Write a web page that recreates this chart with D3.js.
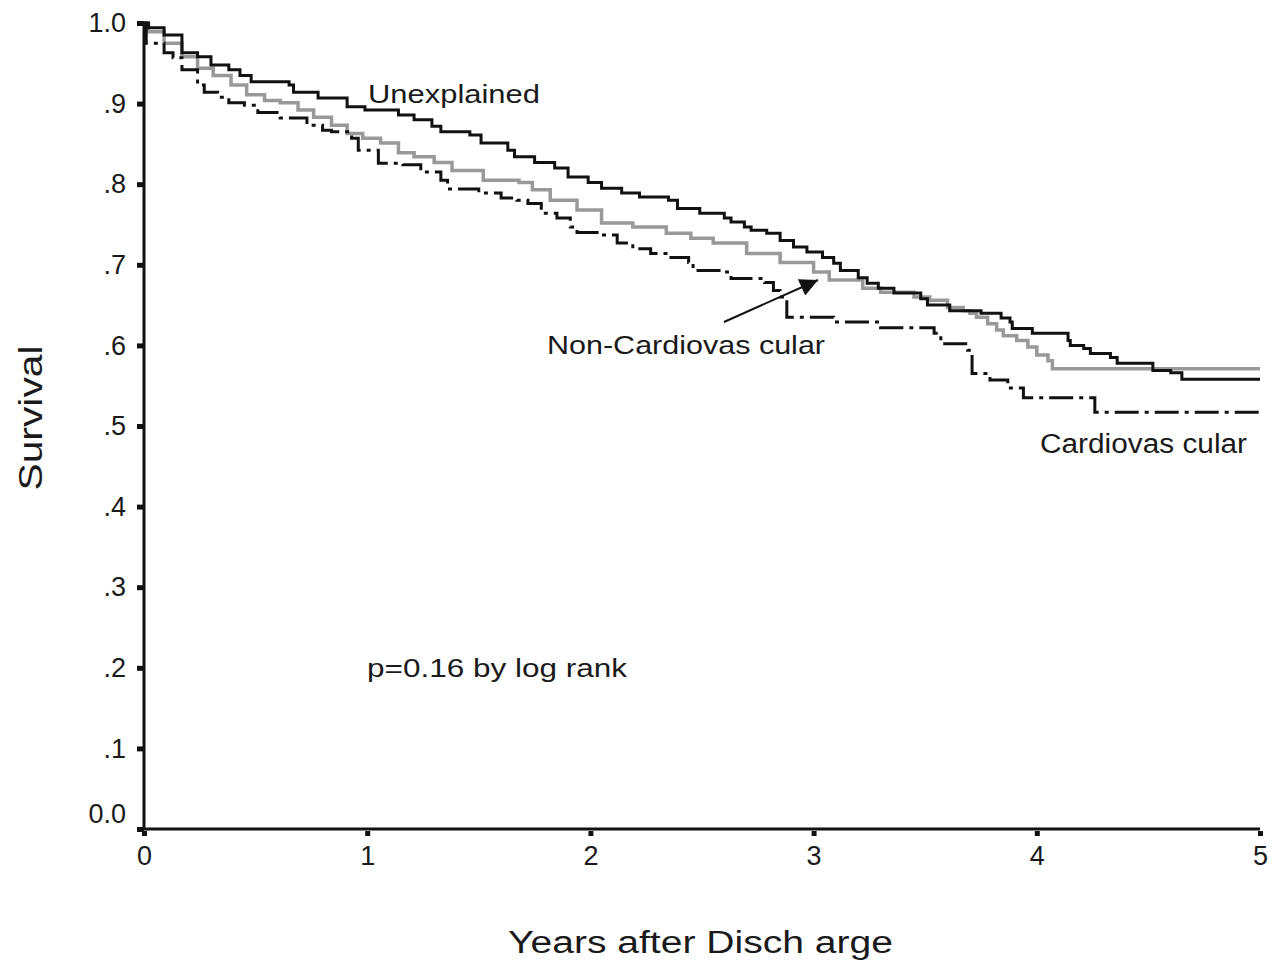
<!DOCTYPE html>
<html>
<head>
<meta charset="utf-8">
<script src="https://cdn.jsdelivr.net/npm/d3@7"></script>
<style>
  body { margin: 0; background: #fff; }
  svg { display: block; font-family: Arial, "Liberation Sans", sans-serif; }
</style>
</head>
<body>
<div id="chart"></div>
<script>
// Kaplan-Meier steps: [years, survival]
var unexplained = [
  [0, 1.0], [0.02, 0.994], [0.09, 0.985], [0.17, 0.963], [0.24, 0.958], [0.30, 0.948],
  [0.38, 0.942], [0.43, 0.935], [0.48, 0.927], [0.65, 0.923], [0.67, 0.914], [0.78, 0.907],
  [0.91, 0.896], [0.99, 0.892], [1.14, 0.886], [1.21, 0.880], [1.29, 0.872], [1.33, 0.865],
  [1.46, 0.861], [1.51, 0.851], [1.63, 0.842], [1.66, 0.834], [1.75, 0.827], [1.84, 0.820],
  [1.90, 0.809], [1.99, 0.802], [2.05, 0.795], [2.14, 0.789], [2.22, 0.784], [2.35, 0.780],
  [2.39, 0.770], [2.49, 0.764], [2.60, 0.758], [2.63, 0.753], [2.69, 0.747], [2.72, 0.743],
  [2.79, 0.739], [2.85, 0.730], [2.91, 0.722], [2.97, 0.716], [3.04, 0.709], [3.09, 0.702],
  [3.12, 0.693], [3.20, 0.684], [3.24, 0.677], [3.29, 0.671], [3.36, 0.665], [3.48, 0.658],
  [3.51, 0.650], [3.61, 0.643], [3.75, 0.640], [3.84, 0.634], [3.88, 0.629], [3.89, 0.621],
  [3.98, 0.615], [4.14, 0.606], [4.15, 0.600], [4.21, 0.596], [4.24, 0.590], [4.33, 0.585],
  [4.36, 0.578], [4.52, 0.569], [4.60, 0.566], [4.65, 0.558], [5.0, 0.558]
];

var nonCardio = [
  [0, 1.0], [0.02, 0.989], [0.09, 0.975], [0.17, 0.958], [0.24, 0.944], [0.31, 0.935],
  [0.39, 0.923], [0.46, 0.911], [0.54, 0.904], [0.61, 0.901], [0.69, 0.892], [0.76, 0.883],
  [0.84, 0.873], [0.91, 0.863], [0.98, 0.857], [1.06, 0.851], [1.14, 0.839], [1.21, 0.834],
  [1.30, 0.827], [1.38, 0.817], [1.52, 0.805], [1.68, 0.802], [1.74, 0.793], [1.82, 0.780],
  [1.94, 0.768], [2.05, 0.752], [2.19, 0.747], [2.34, 0.739], [2.45, 0.733], [2.55, 0.727],
  [2.70, 0.714], [2.85, 0.703], [3.00, 0.691], [3.07, 0.681], [3.22, 0.671], [3.30, 0.666],
  [3.45, 0.660], [3.52, 0.656], [3.60, 0.647], [3.67, 0.643], [3.70, 0.640], [3.73, 0.635],
  [3.78, 0.627], [3.82, 0.619], [3.85, 0.612], [3.91, 0.606], [3.96, 0.598], [4.00, 0.588],
  [4.05, 0.581], [4.07, 0.571], [5.0, 0.571]
];

var cardio = [
  [0, 1.0], [0.01, 0.975], [0.09, 0.963], [0.13, 0.957], [0.17, 0.942], [0.24, 0.923],
  [0.27, 0.914], [0.33, 0.908], [0.38, 0.901], [0.45, 0.898], [0.51, 0.889], [0.61, 0.882],
  [0.73, 0.873], [0.80, 0.867], [0.84, 0.865], [0.93, 0.857], [0.96, 0.842], [1.05, 0.826],
  [1.16, 0.824], [1.24, 0.815], [1.33, 0.805], [1.36, 0.794], [1.50, 0.789], [1.60, 0.783],
  [1.67, 0.780], [1.72, 0.776], [1.78, 0.764], [1.85, 0.758], [1.91, 0.747], [1.94, 0.740],
  [2.03, 0.737], [2.12, 0.727], [2.19, 0.720], [2.27, 0.714], [2.35, 0.709], [2.44, 0.703],
  [2.46, 0.693], [2.61, 0.691], [2.63, 0.683], [2.78, 0.678], [2.82, 0.668], [2.85, 0.660],
  [2.88, 0.635], [3.09, 0.629], [3.30, 0.622], [3.54, 0.615], [3.57, 0.602], [3.69, 0.594],
  [3.71, 0.565], [3.79, 0.557], [3.87, 0.547], [3.94, 0.535], [4.26, 0.517], [5.0, 0.517]
];

var xTicks = [0, 1, 2, 3, 4, 5];
var yTicks = [0, 0.1, 0.2, 0.3, 0.4, 0.5, 0.6, 0.7, 0.8, 0.9, 1.0];
var yTickLabels = ["0.0", ".1", ".2", ".3", ".4", ".5", ".6", ".7", ".8", ".9", "1.0"];

var width = 1279, height = 971;

var svg = d3.select("#chart")
  .append("svg")
    .attr("width", width)
    .attr("height", height);

var x = d3.scaleLinear().domain([0, 5]).range([144, 1260]);
var y = d3.scaleLinear().domain([0, 1]).range([829, 23]);

// axes
var yAxis = g => g
  .attr("transform", "translate(" + x(0) + ",0)")
  .call(d3.axisLeft(y).tickValues(yTicks).tickSize(7).tickPadding(11)
    .tickFormat((d, i) => yTickLabels[i]))
  .call(g => g.select(".domain").remove());

var xAxis = g => g
  .attr("transform", "translate(0," + y(0) + ")")
  .call(d3.axisBottom(x).tickValues(xTicks).tickSize(7).tickPadding(10)
    .tickFormat(d3.format("d")))
  .call(g => g.select(".domain").remove());

var gy = svg.append("g").call(yAxis);
var gx = svg.append("g").call(xAxis);

[gx, gy].forEach(function(g) {
  g.selectAll(".tick line").attr("stroke", "#111").attr("stroke-width", 5);
  g.selectAll(".tick text")
    .attr("fill", "#1a1a1a")
    .attr("font-size", 27)
    .attr("font-family", "Arial, 'Liberation Sans', sans-serif");
});
// the 0.0 label sits above the corner
gy.selectAll(".tick text").filter(d => d === 0).attr("dy", "-0.25em");
gx.selectAll(".tick line").attr("y1", 2);

// axis lines
svg.append("line")
  .attr("x1", x(0)).attr("x2", x(0))
  .attr("y1", y(1)).attr("y2", y(0) + 1)
  .attr("stroke", "#111").attr("stroke-width", 3);
svg.append("line")
  .attr("x1", x(0)).attr("x2", x(5))
  .attr("y1", y(0)).attr("y2", y(0))
  .attr("stroke", "#111").attr("stroke-width", 3);

var line = d3.line()
  .x(d => x(d[0]))
  .y(d => y(d[1]))
  .curve(d3.curveStepAfter);

svg.append("path")
  .datum(nonCardio)
  .attr("fill", "none")
  .attr("stroke", "#999")
  .attr("stroke-width", 3.5)
  .attr("d", line);

svg.append("path")
  .datum(cardio)
  .attr("fill", "none")
  .attr("stroke", "#111")
  .attr("stroke-width", 3)
  .attr("stroke-dasharray", "24,6,4,6")
  .attr("d", line);

svg.append("path")
  .datum(unexplained)
  .attr("fill", "none")
  .attr("stroke", "#111")
  .attr("stroke-width", 3)
  .attr("d", line);

// arrow to the non-cardiovascular curve
svg.append("defs").append("marker")
  .attr("id", "head")
  .attr("viewBox", "0 0 10 10")
  .attr("refX", 10).attr("refY", 5)
  .attr("markerWidth", 22).attr("markerHeight", 18)
  .attr("markerUnits", "userSpaceOnUse")
  .attr("orient", "auto")
  .append("path")
    .attr("d", "M0,0L10,5L0,10Z")
    .attr("fill", "#111");

svg.append("line")
  .attr("x1", 724).attr("y1", 322)
  .attr("x2", 818).attr("y2", 280)
  .attr("stroke", "#111").attr("stroke-width", 2)
  .attr("marker-end", "url(#head)");

// labels
function label(text, x0, y0, size, len) {
  svg.append("text")
    .attr("x", x0).attr("y", y0)
    .attr("font-size", size)
    .attr("fill", "#1a1a1a")
    .attr("textLength", len)
    .attr("lengthAdjust", "spacingAndGlyphs")
    .text(text);
}
label("Unexplained", 368, 103, 26, 172);
label("Non-Cardiovas cular", 547, 354, 26, 278);
label("Cardiovas cular", 1040, 453, 27, 207);
label("p=0.16 by log rank", 367, 677, 26, 260);
label("Years after Disch arge", 508, 953, 31, 385);

svg.append("text")
  .attr("transform", "translate(42,418) rotate(-90)")
  .attr("text-anchor", "middle")
  .attr("font-size", 33)
  .attr("fill", "#1a1a1a")
  .attr("textLength", 145)
  .attr("lengthAdjust", "spacingAndGlyphs")
  .text("Survival");
</script>
</body>
</html>
